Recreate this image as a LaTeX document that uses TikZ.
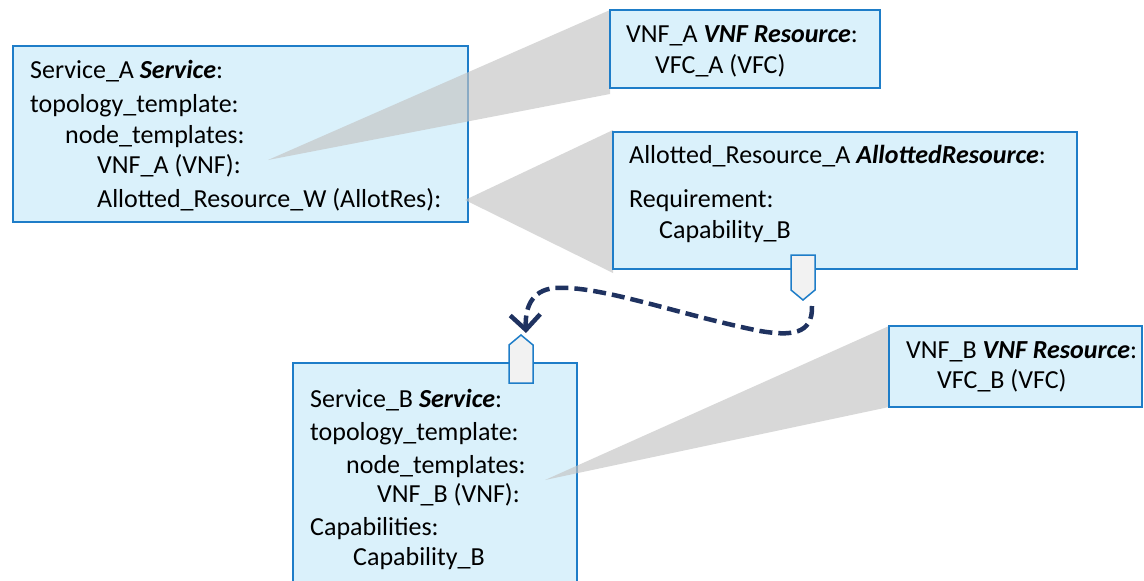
\documentclass[tikz,border=0pt]{standalone}
\usepackage{fontspec}
\setmainfont{Carlito}
\usetikzlibrary{arrows.meta,calc}
\definecolor{boxfill}{RGB}{218,241,251}
\definecolor{boxline}{RGB}{30,125,200}
\definecolor{wedge}{RGB}{195,195,195}
\definecolor{plug}{RGB}{242,242,242}
\definecolor{navy}{RGB}{31,50,96}
\newcommand{\kind}[1]{\textbf{\textit{#1}}}
\begin{document}
\begin{tikzpicture}[x=1pt,y=-1pt,
  card/.style={draw=boxline,fill=boxfill,line width=1.5pt,anchor=north west,
    inner sep=0pt,outer sep=0pt},
  txt/.style={anchor=base west,inner sep=0pt,font=\fontsize{26}{30}\selectfont},
  callout/.style={fill=wedge,opacity=0.65},
  plugshape/.style={draw=boxline,fill=plug,line width=1.5pt,line join=miter},
  link/.style={draw=navy,line width=4.5pt,dash pattern=on 13pt off 6pt,
    -{Straight Barb[length=15pt,width=30pt,line width=4.5pt]}}
]
\useasboundingbox (0,0) rectangle (1144,581);
\clip (0,0) rectangle (1144,581);

% service templates
\node[card,minimum width=455pt,minimum height=176pt] (sa) at (13,46) {};
\node[card,minimum width=284pt,minimum height=240pt] (sb) at (293,363) {};

% callout wedges from a node template to its expanded definition
\coordinate (tipA) at (268,160);
\coordinate (tipW) at (465,200);
\coordinate (tipB) at (545,480);
\fill[callout] (tipA) -- (610,10) -- (610,94) -- cycle;
\fill[callout] (tipW) -- (613,130) -- (613,273) -- cycle;
\fill[callout] (tipB) -- (889,326) -- (889,407) -- cycle;

% expanded resources
\node[card,minimum width=270pt,minimum height=78pt] (va) at (610,10) {};
\node[card,minimum width=464pt,minimum height=137pt] (ar) at (613,132) {};
\node[card,minimum width=253pt,minimum height=81pt] (vb) at (889,326) {};

% Service_A
\node[txt] (sa1) at (30,78) {Service\_A \kind{Service}:};
\node[txt] (sa2) at (30,112) {topology\_template:};
\node[txt] (sa3) at (65,143) {node\_templates:};
\node[txt] (sa4) at (97,173) {VNF\_A (VNF):};
\node[txt] (sa5) at (97,207) {Allotted\_Resource\_W (AllotRes):};

% VNF_A
\node[txt] (va1) at (626,42) {VNF\_A \kind{VNF Resource}:};
\node[txt] (va2) at (655,73) {VFC\_A (VFC)};

% Allotted_Resource_A
\node[txt] (ar1) at (629,163) {Allotted\_Resource\_A \kind{AllottedResource}:};
\node[txt] (ar2) at (629,207) {Requirement:};
\node[txt] (ar3) at (659,238) {Capability\_B};

% Service_B
\node[txt] (sb1) at (310,407) {Service\_B \kind{Service}:};
\node[txt] (sb2) at (310,440) {topology\_template:};
\node[txt] (sb3) at (346,473) {node\_templates:};
\node[txt] (sb4) at (377,502) {VNF\_B (VNF):};
\node[txt] (sb5) at (310,535) {Capabilities:};
\node[txt] (sb6) at (353,565) {Capability\_B};

% VNF_B
\node[txt] (vb1) at (906,358) {VNF\_B \kind{VNF Resource}:};
\node[txt] (vb2) at (937,388) {VFC\_B (VFC)};

% requirement and capability plugs
\coordinate (reqtip) at (803,300);
\coordinate (captip) at (521,335);
\draw[plugshape] (791,255) -- (815,255) -- (815,290) -- (reqtip) -- (791,290) -- cycle;
\draw[plugshape] (509,383) -- (509,345) -- (captip) -- (533,345) -- (533,383) -- cycle;

% requirement fulfilled by capability
\draw[link] ($(reqtip)+(9,6)$) .. controls (813,335) and (790,336) .. (760,331)
  .. controls (680,315) and (600,285) .. (555,288)
  .. controls (530,290) and (525,310) .. ($(captip)+(5,-2)$);
\end{tikzpicture}
\end{document}
